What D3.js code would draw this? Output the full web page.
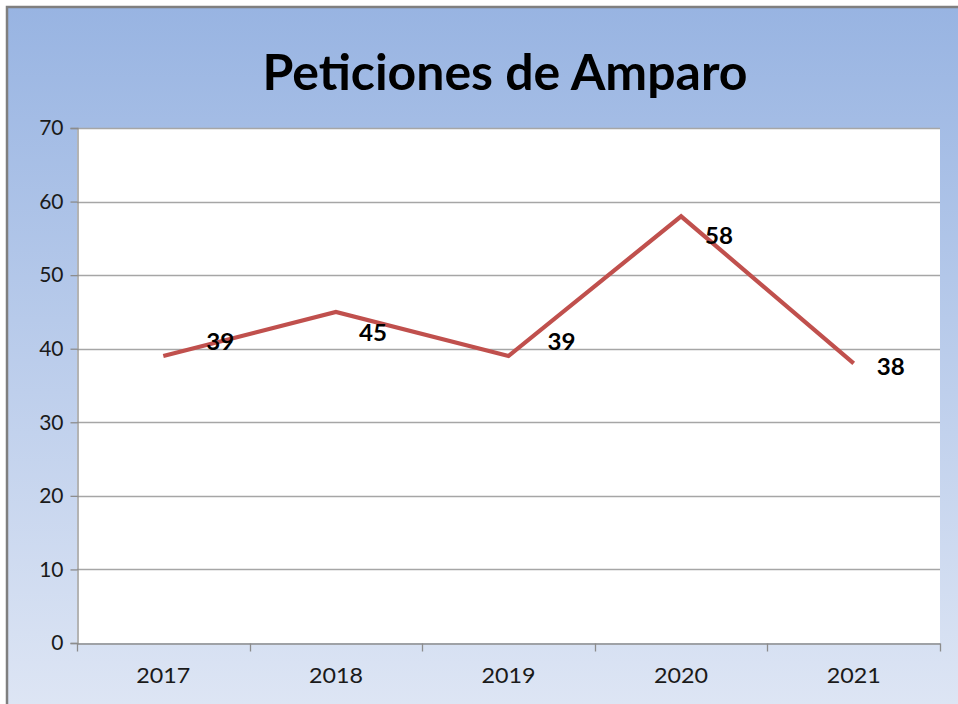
<!DOCTYPE html>
<html><head><meta charset="utf-8">
<script src="https://cdn.jsdelivr.net/npm/d3@7/dist/d3.min.js"></script>
<style>html,body{margin:0;padding:0;background:#fff;}svg{display:block;}</style>
</head><body>
<svg id="c" width="958" height="704"></svg>
<script>
const title = "Peticiones de Amparo";
const categories = ["2017", "2018", "2019", "2020", "2021"];
const values = [39, 45, 39, 58, 38];
const yTicks = [0, 10, 20, 30, 40, 50, 60, 70];
// label offsets (style): [dx, dy] from point
const labelOffsets = [[57, -15], [37, 21], [53, -15], [38, 19], [37, 3]];

const svg = d3.select("#c");
const W = 958, H = 704;
const FONT = "Lato, 'Open Sans', sans-serif";
const defs = svg.append("defs");
const g = defs.append("linearGradient").attr("id", "bg").attr("x1", 0).attr("y1", 0).attr("x2", 0).attr("y2", 1);
g.append("stop").attr("offset", "0%").attr("stop-color", "#98b4e2");
g.append("stop").attr("offset", "100%").attr("stop-color", "#dde5f4");

svg.append("rect").attr("x", 7).attr("y", 7).attr("width", W - 7).attr("height", H - 7).attr("fill", "url(#bg)");
svg.append("path").attr("d", `M7,${H} V7 H${W}`).attr("fill", "none").attr("stroke", "#7f7f7f").attr("stroke-width", 2.5);

const m = {l: 77, r: 940, t: 128, b: 643};
const x = d3.scaleBand().domain(categories).range([m.l, m.r]);
const y = d3.scaleLinear().domain([0, 70]).range([m.b, m.t]);

svg.append("rect").attr("x", m.l).attr("y", m.t).attr("width", m.r - m.l).attr("height", m.b - m.t).attr("fill", "#fff");

// gridlines
svg.append("g").selectAll("line").data(yTicks.filter(d => d > 0)).join("line")
  .attr("x1", m.l).attr("x2", m.r).attr("y1", d => Math.round(y(d)) + 0.5).attr("y2", d => Math.round(y(d)) + 0.5)
  .attr("stroke", "#a6a6a6").attr("stroke-width", 1.3);

// y axis
const ya = svg.append("g").attr("transform", `translate(${m.l + 0.5},0)`)
  .call(d3.axisLeft(y).tickValues(yTicks).tickSize(7).tickPadding(7));
ya.select(".domain").attr("stroke", "#8c8c8c").attr("stroke-width", 1.3);
ya.selectAll(".tick line").attr("stroke", "#8c8c8c").attr("stroke-width", 1.3);
ya.selectAll("text").attr("font-family", FONT).attr("font-size", 21).attr("fill", "#1a1a1a");

// x axis
const xa = svg.append("g").attr("transform", `translate(0,${Math.round(m.b) + 0.5})`)
  .call(d3.axisBottom(x).tickSize(0).tickPadding(25));
xa.select(".domain").attr("stroke", "#8c8c8c").attr("stroke-width", 1.3);
xa.selectAll(".tick text").attr("font-family", FONT).attr("font-size", 21).attr("fill", "#1a1a1a")
  .attr("textLength", 54).attr("lengthAdjust", "spacingAndGlyphs");
const bounds = categories.map(c => x(c)).concat([m.r]);
xa.append("g").selectAll("line").data(bounds).join("line")
  .attr("x1", d => Math.round(d) + 0.5).attr("x2", d => Math.round(d) + 0.5).attr("y1", 0).attr("y2", 8)
  .attr("stroke", "#8c8c8c").attr("stroke-width", 1.3);

// line
const cx = d => x(d) + x.bandwidth() / 2;
const line = d3.line().x((d, i) => cx(categories[i])).y(d => y(d));
svg.append("path").datum(values).attr("d", line).attr("fill", "none")
  .attr("stroke", "#c0504d").attr("stroke-width", 4.2).attr("stroke-linejoin", "miter");

// data labels
svg.append("g").selectAll("text").data(values).join("text")
  .attr("x", (d, i) => cx(categories[i]) + labelOffsets[i][0])
  .attr("y", (d, i) => y(d) + labelOffsets[i][1])
  .attr("text-anchor", "middle").attr("dominant-baseline", "central")
  .attr("font-family", FONT).attr("font-weight", "bold").attr("font-size", 22)
  .attr("fill", "#000").attr("textLength", 28).attr("lengthAdjust", "spacingAndGlyphs")
  .text(d => d);

// title
svg.append("text").attr("x", 505).attr("y", 90).attr("text-anchor", "middle")
  .attr("font-family", FONT).attr("font-weight", "bold").attr("font-size", 49)
  .attr("fill", "#000").attr("textLength", 485).attr("lengthAdjust", "spacingAndGlyphs")
  .text(title);
</script>
</body></html>
